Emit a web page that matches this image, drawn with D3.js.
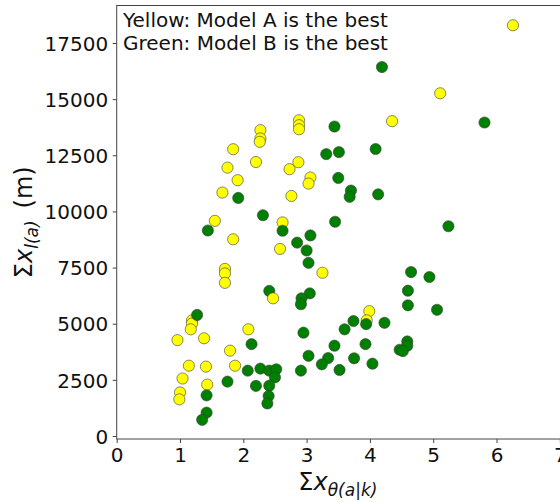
<!DOCTYPE html>
<html>
<head>
<meta charset="utf-8">
<script src="https://cdn.jsdelivr.net/npm/d3@7"></script>
<style>
  html, body { margin: 0; padding: 0; background: #fff; }
  svg { display: block; font-family: "DejaVu Sans", sans-serif; }
</style>
</head>
<body>
<svg id="chart" width="560" height="502"></svg>
<script>
// Model A wins: [Σx_θ(a|k), Σx_l(a)]
const modelA = [
  [6.26, 18290], [5.11, 15260], [4.35, 14020], [2.88, 14060], [2.88, 13840],
  [2.88, 13660], [2.27, 13620], [2.27, 13250], [2.26, 13100], [2.20, 12200],
  [1.84, 12770], [1.75, 11950], [1.91, 11390], [1.67, 10840], [1.55, 9580],
  [1.84, 8760], [2.73, 11880], [2.87, 12190], [3.06, 11510], [3.03, 11240],
  [2.76, 10690], [2.62, 9510], [2.58, 8330], [3.25, 7270], [1.71, 7440],
  [1.71, 7240], [1.71, 6820], [1.19, 5150], [1.19, 5010],
  [1.17, 4750], [0.96, 4270], [1.38, 4350], [2.08, 4750], [1.79, 3800],
  [1.14, 3130], [1.41, 3090], [1.87, 3130], [1.04, 2560], [1.43, 2290],
  [1.00, 1940], [0.99, 1630], [3.99, 5560], [3.95, 5150]
];

// Model B wins
const modelB = [
  [4.19, 16430], [5.81, 13960], [3.44, 13780], [3.31, 12550], [3.51, 12640],
  [4.09, 12780], [3.50, 11490], [3.70, 10930], [3.68, 10650], [4.13, 10760],
  [1.92, 10600], [2.31, 9830], [1.44, 9150], [2.62, 9140], [3.45, 9540],
  [5.24, 9340], [3.06, 8930], [2.85, 8610], [3.00, 8260], [3.03, 7710],
  [4.65, 7300], [4.94, 7080], [4.60, 6470], [3.05, 6350], [2.92, 6130],
  [2.91, 5870], [4.60, 5820], [5.06, 5620], [3.74, 5120], [3.94, 4980],
  [4.23, 5040], [3.60, 4750], [2.95, 4600], [3.93, 4090], [3.44, 4020],
  [4.59, 4210], [4.59, 4020], [4.47, 3840], [4.52, 3780], [3.03, 3570],
  [3.34, 3470], [3.24, 3190], [3.75, 3460], [4.04, 3220], [3.52, 2940],
  [2.91, 2910], [2.41, 6460], [1.27, 5390], [2.13, 4090], [2.07, 2910],
  [2.27, 3000], [2.41, 2910], [2.52, 2970], [2.50, 2610], [1.75, 2420],
  [2.20, 2230], [2.41, 2240], [1.42, 1810], [2.40, 1780], [2.38, 1450],
  [1.42, 1040], [1.35, 720]
];

// drawn after the green markers so it sits on top
const modelALate = [[2.47, 6130]];

const xTicks = [0, 1, 2, 3, 4, 5, 6, 7];
const yTicks = [0, 2500, 5000, 7500, 10000, 12500, 15000, 17500];
const notes = ["Yellow: Model A is the best", "Green: Model B is the best"];

const svg = d3.select("#chart");
const plotLeft = 116.7, plotRight = 563, plotTop = 5.5, plotBottom = 439;

const x = d3.scaleLinear().domain([0, 7.05]).range([plotLeft, plotRight]);
const y = d3.scaleLinear().domain([-134, 19170]).range([plotBottom, plotTop]);

const axisColor = "#444";

// frame
svg.append("rect")
  .attr("x", plotLeft).attr("y", plotTop)
  .attr("width", plotRight - plotLeft).attr("height", plotBottom - plotTop)
  .attr("fill", "none").attr("stroke", axisColor).attr("stroke-width", 1);

const xAxis = svg.append("g")
  .attr("transform", `translate(0,${plotBottom})`)
  .call(d3.axisBottom(x).tickValues(xTicks).tickFormat(d3.format("d")).tickSize(4).tickPadding(4));
const yAxis = svg.append("g")
  .attr("transform", `translate(${plotLeft},0)`)
  .call(d3.axisLeft(y).tickValues(yTicks).tickFormat(d3.format("d")).tickSize(4).tickPadding(4.5));

[xAxis, yAxis].forEach(g => {
  g.select(".domain").remove();
  g.selectAll(".tick line").attr("stroke", axisColor);
  g.selectAll(".tick text")
    .attr("fill", "#111")
    .style("font-family", "DejaVu Sans")
    .style("font-size", "20px");
});
yAxis.selectAll(".tick text").attr("dy", "0.36em");
xAxis.selectAll(".tick text").attr("dy", "0.74em");

function drawPoints(data, fill) {
  svg.append("g").selectAll("circle")
    .data(data).join("circle")
    .attr("cx", d => x(d[0]))
    .attr("cy", d => y(d[1]))
    .attr("r", 5.6)
    .attr("fill", fill)
    .attr("stroke", "#3a3a3a")
    .attr("stroke-width", 0.6);
}
drawPoints(modelA, "#ffff00");
drawPoints(modelB, "#008000");
drawPoints(modelALate, "#ffff00");

// annotation in the upper-left corner
notes.forEach((t, i) => {
  svg.append("text")
    .attr("x", 123).attr("y", 27 + i * 22.5)
    .attr("fill", "#111")
    .style("font-size", "20px")
    .text(t);
});

// x label: Σx_θ(a|k)
const xl = svg.append("text")
  .attr("x", (plotLeft + plotRight) / 2 - 2).attr("y", 490)
  .attr("text-anchor", "middle")
  .attr("fill", "#111")
  .style("font-size", "24px");
xl.append("tspan").text("Σ");
xl.append("tspan").style("font-style", "italic").text("x");
xl.append("tspan").attr("dy", 6).style("font-size", "17px").style("font-style", "italic").text("θ(a|k)");

// y label: Σx_l(a) (m)
const yl = svg.append("text")
  .attr("transform", `translate(32,${(plotTop + plotBottom) / 2}) rotate(-90)`)
  .attr("text-anchor", "middle")
  .attr("fill", "#111")
  .style("font-size", "24px");
yl.append("tspan").text("Σ");
yl.append("tspan").style("font-style", "italic").text("x");
yl.append("tspan").attr("dy", 6).style("font-size", "17px").style("font-style", "italic").text("l(a)");
yl.append("tspan").attr("dy", -6).text("\u2002(m)");
</script>
</body>
</html>
